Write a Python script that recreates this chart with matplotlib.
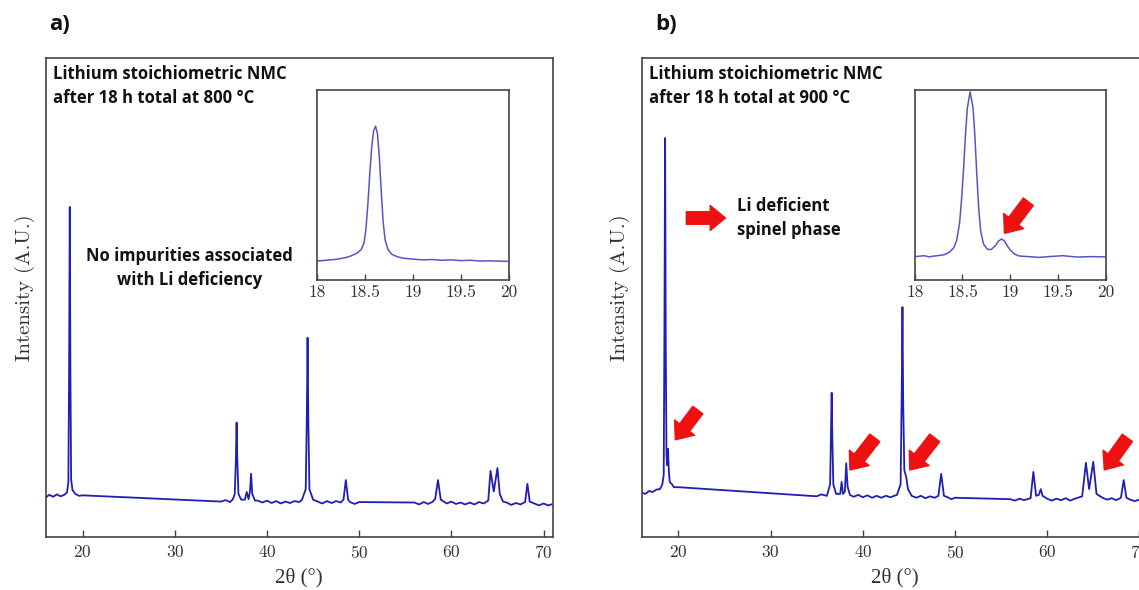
import matplotlib
matplotlib.use('Agg')
import matplotlib.pyplot as plt

plt.rcParams['font.family'] = 'cmr10'
plt.rcParams['mathtext.fontset'] = 'cm'
plt.rcParams['axes.formatter.use_mathtext'] = True

# Padrão a) - 800 °C (2θ, intensidade relativa)
a_tt = [16.0, 16.4, 16.8, 17.2, 17.6, 18.0, 18.3, 18.45, 18.53, 18.6, 18.67, 18.75, 18.9, 19.2, 19.6, 20.0,
        35.0, 35.5, 36.0, 36.3, 36.5, 36.62, 36.7, 36.78, 36.9, 37.2, 37.6, 37.8, 38.0, 38.15, 38.27, 38.4,
        38.7, 39.0, 39.5, 40.0, 40.5, 41.0, 41.5, 42.0, 42.5, 43.0, 43.5, 43.8, 44.2, 44.32, 44.4, 44.48,
        44.6, 45.0, 45.5, 46.0, 46.5, 47.0, 47.5, 48.0, 48.3, 48.55, 48.8, 49.0, 49.5, 50.0,
        56.0, 56.5, 57.0, 57.5, 58.0, 58.25, 58.55, 58.85, 59.5, 60.0, 60.5, 61.0, 61.5, 62.0, 62.5, 63.0,
        63.5, 64.0, 64.25, 64.6, 65.0, 65.25, 65.6, 66.0, 66.5, 67.0, 67.5, 68.0, 68.25, 68.5, 69.0, 69.5,
        70.0, 70.5, 71.0]
a_int = [8.3, 8.8, 8.4, 8.9, 8.5, 8.8, 9.3, 11.5, 35.0, 68.9, 35.0, 12.0, 9.8, 9.0, 8.6, 8.7,
         7.4, 7.7, 7.3, 7.9, 9.0, 16.0, 23.9, 16.0, 9.0, 7.8, 7.8, 9.4, 7.9, 9.5, 13.2, 9.0,
         7.6, 7.6, 7.2, 7.6, 7.1, 7.5, 7.0, 7.4, 7.1, 7.5, 7.3, 7.8, 10.0, 25.0, 41.6, 25.0,
         10.0, 7.8, 7.4, 7.0, 7.5, 7.1, 7.5, 7.2, 7.8, 11.9, 7.8, 7.3, 6.9, 7.3,
         7.2, 6.8, 7.3, 6.9, 7.4, 8.0, 11.9, 7.8, 7.0, 7.4, 6.9, 7.2, 6.8, 7.2, 6.8, 7.3,
         7.0, 7.6, 13.8, 9.5, 14.4, 9.0, 7.4, 7.2, 6.7, 7.1, 6.8, 7.3, 11.1, 7.4, 7.0, 6.6,
         7.0, 6.6, 6.9]

# Padrão b) - 900 °C
b_tt = [16.0, 16.4, 16.8, 17.2, 17.6, 18.0, 18.25, 18.4, 18.48, 18.55, 18.62, 18.7, 18.78, 18.86, 18.95,
        19.05, 19.3, 19.5, 20.0, 35.0, 35.5, 36.1, 36.45, 36.55, 36.62, 36.7, 36.8, 37.1, 37.55, 37.7,
        37.85, 38.05, 38.2, 38.35, 38.6, 39.0, 39.5, 40.0, 40.5, 41.0, 41.5, 42.0, 42.5, 43.0, 43.7,
        44.1, 44.22, 44.3, 44.38, 44.5, 44.7, 44.9, 45.3, 45.8, 46.3, 46.8, 47.3, 47.8, 48.2, 48.5,
        48.8, 49.2, 49.6, 50.0, 56.0, 56.5, 57.0, 57.5, 58.2, 58.5, 58.8, 59.1, 59.3, 59.5, 60.0,
        60.5, 61.0, 61.5, 62.0, 62.5, 63.0, 63.8, 64.2, 64.55, 65.0, 65.35, 66.0, 66.5, 67.0, 67.5,
        68.0, 68.3, 68.6, 69.0, 69.5, 70.0, 70.5, 71.0]
b_int = [9.3, 9.0, 9.6, 9.4, 9.9, 10.0, 11.0, 13.0, 45.0, 83.3, 40.0, 17.0, 15.0, 18.4, 14.0,
         11.5, 11.0, 10.4, 10.4, 8.5, 8.9, 8.6, 11.0, 22.0, 30.1, 20.0, 11.0, 9.0, 9.0, 11.5,
         9.0, 9.5, 15.4, 10.5, 8.8, 8.4, 8.8, 8.3, 8.7, 8.2, 8.6, 8.2, 8.6, 8.3, 8.8,
         11.0, 30.0, 48.0, 28.0, 14.0, 12.6, 10.0, 8.6, 8.2, 8.6, 8.1, 8.5, 8.2, 8.6, 13.2,
         8.6, 8.3, 7.9, 8.2, 7.9, 7.6, 8.0, 7.7, 8.1, 13.6, 8.6, 8.8, 10.0, 8.6, 8.0,
         7.6, 8.0, 7.7, 8.1, 7.6, 8.0, 8.5, 15.5, 10.0, 15.7, 9.0, 8.2, 7.8, 8.1, 7.7,
         8.2, 11.9, 8.2, 7.8, 7.5, 7.8, 7.5, 7.7]

# Zoom no pico (003)
ia_tt = [18.0, 18.1, 18.2, 18.3, 18.36, 18.42, 18.46, 18.49, 18.51, 18.53, 18.55, 18.57, 18.59, 18.61,
         18.63, 18.65, 18.67, 18.69, 18.71, 18.74, 18.78, 18.84, 18.9, 19.0, 19.1, 19.2, 19.3, 19.4,
         19.5, 19.6, 19.7, 19.8, 20.0]
ia_int = [10.0, 10.4, 10.9, 11.8, 12.8, 14.2, 16.0, 19.5, 27.0, 40.0, 56.0, 70.0, 78.5, 81.0,
          77.0, 64.0, 46.0, 30.0, 21.0, 16.0, 13.5, 12.2, 11.5, 11.0, 10.6, 10.8, 10.4, 10.6,
          10.2, 10.4, 10.0, 10.1, 9.8]
ib_tt = [18.0, 18.1, 18.15, 18.2, 18.3, 18.36, 18.41, 18.44, 18.47, 18.49, 18.51, 18.53, 18.55, 18.58,
         18.61, 18.63, 18.65, 18.67, 18.69, 18.72, 18.76, 18.8, 18.84, 18.88, 18.91, 18.94, 18.97, 19.0,
         19.05, 19.1, 19.2, 19.3, 19.4, 19.55, 19.7, 19.85, 20.0]
ib_int = [12.3, 12.8, 12.2, 12.6, 13.2, 14.5, 17.0, 21.0, 30.0, 42.0, 57.0, 75.0, 90.0, 99.0,
          91.0, 76.0, 56.0, 38.0, 26.0, 19.0, 16.2, 16.0, 17.8, 20.6, 21.6, 20.5, 18.0, 15.8,
          13.5, 12.6, 12.3, 11.9, 12.3, 12.8, 12.1, 12.3, 12.2]

main_ticks = [20, 30, 40, 50, 60, 70]
inset_ticks = [18, 18.5, 19, 19.5, 20]
inset_labels = ['18', '18.5', '19', '19.5', '20']

# setas vermelhas: (ponta, cauda)
b_arrows = [((19.66, 20.3), (22.1, 26.5)),
            ((38.6, 14.0), (41.3, 20.7)),
            ((45.1, 14.0), (47.8, 20.7)),
            ((66.2, 14.0), (68.7, 20.7))]

cor_linha = '#1f1fb4'
cor_inset = '#5656cc'
cor_eixo = '#444444'
cor_texto = '#333333'
fonte_txt = 'Open Sans'
seta = dict(arrowstyle='simple,head_width=1.8,head_length=1.1,tail_width=0.9',
            color='#ee1111', shrinkA=0, shrinkB=0, mutation_scale=10)

fig = plt.figure(figsize=(11.39, 5.90), dpi=100)


def eixo_principal(rect, tt, inten, nome):
    ax = fig.add_axes(rect)
    ax.plot(tt, inten, color=cor_linha, lw=1.3)
    ax.set_xlim(16, 71)
    ax.set_ylim(0, 100)
    ax.set_yticks([])
    ax.set_xticks(main_ticks)
    ax.tick_params(axis='x', direction='in', length=5, width=1, labelsize=12.5, colors=cor_eixo,
                   labelcolor=cor_texto, pad=5)
    for s in ax.spines.values():
        s.set_color(cor_eixo)
        s.set_linewidth(1.2)
    ax.set_xlabel('2θ (°)', fontsize=15, color=cor_texto, labelpad=5, family='Liberation Serif')
    ax.set_ylabel('Intensity (A.U.)', fontsize=15, color=cor_texto)
    ax.yaxis.set_label_coords(-0.022, 0.52)
    ax.text(0.014, 0.985, 'Lithium stoichiometric NMC\nafter 18 h total at ' + nome,
            transform=ax.transAxes, ha='left', va='top', fontsize=12, fontweight='bold',
            family=fonte_txt, linespacing=1.4, color='#111111')
    return ax


def eixo_inset(rect, tt, inten):
    ax = fig.add_axes(rect)
    ax.plot(tt, inten, color=cor_inset, lw=1.1)
    ax.set_xlim(18, 20)
    ax.set_ylim(0, 100)
    ax.set_yticks([])
    ax.set_xticks(inset_ticks, inset_labels)
    ax.tick_params(axis='x', direction='in', length=4, width=1, labelsize=12.5, colors=cor_eixo,
                   labelcolor=cor_texto, pad=3)
    for s in ax.spines.values():
        s.set_color(cor_eixo)
        s.set_linewidth(1.2)
    return ax


ax_a = eixo_principal([0.0402, 0.0898, 0.4451, 0.8119], a_tt, a_int, '800 °C')
ax_a.text(31.6, 56.2, 'No impurities associated\nwith Li deficiency', ha='center', va='center',
          fontsize=12, fontweight='bold', family=fonte_txt, linespacing=1.4, color='#111111')
ins_a = eixo_inset([0.2783, 0.5254, 0.1686, 0.3220], ia_tt, ia_int)

ax_b = eixo_principal([0.5633, 0.0898, 0.4451, 0.8119], b_tt, b_int, '900 °C')
ax_b.annotate('', xy=(25.1, 66.6), xytext=(20.85, 66.6), arrowprops=seta)
ax_b.text(26.3, 66.6, 'Li deficient\nspinel phase', ha='left', va='center',
          fontsize=12, fontweight='bold', family=fonte_txt, linespacing=1.4, color='#111111')
for ponta, cauda in b_arrows:
    ax_b.annotate('', xy=ponta, xytext=cauda, arrowprops=seta)
ins_b = eixo_inset([0.8031, 0.5254, 0.1676, 0.3220], ib_tt, ib_int)
ins_b.annotate('', xy=(18.94, 24.6), xytext=(19.19, 41.2), arrowprops=seta)

fig.text(49 / 1139, 1 - 25 / 590, 'a)', fontsize=16, fontweight='bold', family=fonte_txt,
         ha='left', va='center', color='#111111')
fig.text(655 / 1139, 1 - 25 / 590, 'b)', fontsize=16, fontweight='bold', family=fonte_txt,
         ha='left', va='center', color='#111111')

fig.savefig('out.png', dpi=100)
